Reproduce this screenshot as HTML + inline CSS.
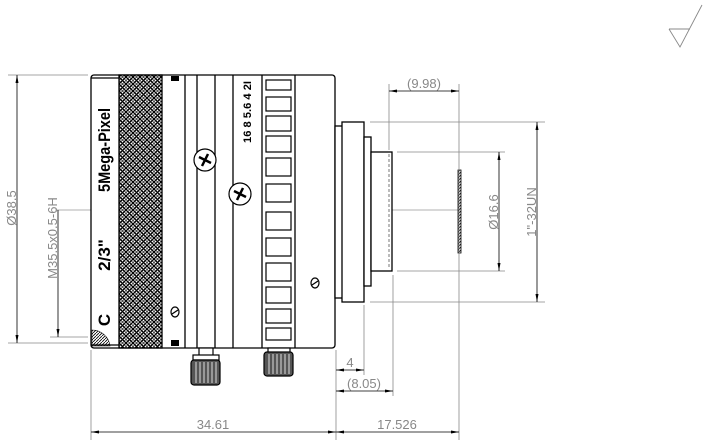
<!DOCTYPE html>
<html><head><style>html,body{margin:0;padding:0;background:#fff}svg{display:block}</style></head>
<body>
<svg width="710" height="445" viewBox="0 0 710 445" xmlns="http://www.w3.org/2000/svg" font-family="Liberation Sans, sans-serif">
<defs>
<pattern id="kn" width="7" height="7" patternUnits="userSpaceOnUse">
<rect width="7" height="7" fill="#fff"/>
<path d="M0 0L7 7M7 0L0 7" stroke="#000" stroke-width="1.3"/>
<path d="M0 3.5L3.5 0L7 3.5L3.5 7z" fill="none" stroke="#000" stroke-width="0.6"/>
<rect x="2.6" y="2.6" width="1.8" height="1.8" fill="#000"/>
</pattern>
<pattern id="hat" width="3" height="3" patternUnits="userSpaceOnUse"><path d="M0 3L3 0" stroke="#000" stroke-width="0.8"/></pattern>
<marker id="a" markerWidth="8" markerHeight="6" refX="8" refY="3" orient="auto-start-reverse" markerUnits="userSpaceOnUse"><path d="M0 1.5L8 3L0 4.5z" fill="#000"/></marker>
</defs>
<g stroke="#999" stroke-width="0.8">
<line x1="55" y1="210" x2="110" y2="210"/><line x1="180" y1="210" x2="350" y2="210"/><line x1="345" y1="210" x2="460" y2="210"/>
</g>
<g stroke="#000" stroke-width="1.3" fill="#fff">
<rect x="91" y="75" width="244" height="273" rx="3"/>
<rect x="119" y="75" width="43" height="273" fill="url(#kn)"/>
<line x1="185" y1="75" x2="185" y2="348"/>
<line x1="197" y1="75" x2="197" y2="348"/>
<line x1="215" y1="75" x2="215" y2="348"/>
<line x1="233" y1="75" x2="233" y2="348"/>
<line x1="262" y1="75" x2="262" y2="348"/>
<line x1="295" y1="75" x2="295" y2="348"/>
<line x1="91" y1="78" x2="119" y2="78"/>
<line x1="91" y1="345" x2="119" y2="345"/>
</g>
<g stroke="#000" stroke-width="1.2" fill="#fff">
<rect x="266" y="80" width="25" height="10"/>
<rect x="266" y="97" width="25" height="14"/>
<rect x="266" y="116" width="25" height="15"/>
<rect x="266" y="136" width="25" height="16"/>
<rect x="266" y="158" width="25" height="18"/>
<rect x="266" y="184" width="25" height="18"/>
<rect x="266" y="212" width="25" height="18"/>
<rect x="266" y="238" width="25" height="18"/>
<rect x="266" y="263" width="25" height="18"/>
<rect x="266" y="287" width="25" height="16"/>
<rect x="266" y="309" width="25" height="14"/>
<rect x="266" y="328" width="25" height="12"/>
</g>
<rect x="171" y="76" width="8" height="5" fill="#000"/>
<rect x="171" y="340" width="8" height="6" fill="#000"/>
<g stroke="#000" stroke-width="1.2" fill="#fff">
<circle cx="205" cy="160" r="11"/><path d="M199 157l12 6M208 154l-6 12" stroke-width="2.5"/>
<circle cx="240" cy="194" r="11"/><path d="M234 191l12 6M243 188l-6 12" stroke-width="2.5"/>
<ellipse cx="175" cy="312" rx="4" ry="5"/><line x1="172" y1="314" x2="178" y2="310"/>
<ellipse cx="315" cy="283" rx="4" ry="5"/><line x1="312" y1="285" x2="318" y2="281"/>
</g>
<g stroke="#000" stroke-width="1.2" fill="#fff">
<rect x="199" y="348" width="14" height="8"/>
<rect x="193" y="355" width="26" height="5"/>
<rect x="191" y="360" width="29" height="25" rx="3" fill="#555"/>
<rect x="268" y="348" width="22" height="5"/>
<rect x="264" y="352" width="29" height="24" rx="3" fill="#555"/>
</g>
<g stroke="#fff" stroke-width="0.8">
<path d="M196 362v21M200 362v21M204 362v21M208 362v21M212 362v21M216 362v21M269 354v20M273 354v20M277 354v20M281 354v20M285 354v20M289 354v20"/>
</g>
<path d="M92 330 A18 18 0 0 1 110 346 L92 346z" fill="url(#hat)" stroke="#000" stroke-width="0.6"/>
<g stroke="#000" stroke-width="1.3" fill="#fff">
<rect x="335" y="126" width="8" height="172"/>
<rect x="342" y="122" width="22" height="180"/>
<rect x="364" y="137" width="7" height="149"/>
<rect x="371" y="152" width="21" height="119"/>
</g>
<line x1="389" y1="154" x2="389" y2="269" stroke="#777" stroke-dasharray="3 2"/>
<rect x="458" y="170" width="3" height="83" fill="url(#hat)" stroke="#000" stroke-width="0.8"/>
<g font-weight="bold" fill="#000">
<text transform="translate(110,150) rotate(-90)" text-anchor="middle" font-size="17" textLength="84" lengthAdjust="spacingAndGlyphs">5Mega-Pixel</text>
<text transform="translate(110,255) rotate(-90)" text-anchor="middle" font-size="17">2/3"</text>
<text transform="translate(110,320) rotate(-90)" text-anchor="middle" font-size="17">C</text>
<text transform="translate(251,112) rotate(-90)" text-anchor="middle" font-size="11" textLength="62" lengthAdjust="spacingAndGlyphs">16 8 5.6 4 2I</text>
</g>
<g stroke="#888" stroke-width="0.8" fill="none">
<line x1="8" y1="75" x2="88" y2="75"/><line x1="8" y1="343" x2="88" y2="343"/>
<line x1="50" y1="337" x2="88" y2="337"/>
<line x1="91" y1="350" x2="91" y2="440"/><line x1="336" y1="350" x2="336" y2="440"/>
<line x1="389" y1="84" x2="389" y2="150"/><line x1="459" y1="84" x2="459" y2="440"/>
<line x1="364" y1="305" x2="364" y2="375"/><line x1="393" y1="275" x2="393" y2="396"/>
<line x1="370" y1="122" x2="545" y2="122"/><line x1="370" y1="302" x2="545" y2="302"/>
<line x1="397" y1="152" x2="505" y2="152"/><line x1="397" y1="271" x2="505" y2="271"/>
</g>
<g stroke="#000" stroke-width="0.8" fill="none">
<line x1="17" y1="75" x2="17" y2="343" marker-start="url(#a)" marker-end="url(#a)"/>
<line x1="58" y1="210" x2="58" y2="337" marker-end="url(#a)"/>
<line x1="389" y1="91" x2="459" y2="91" marker-start="url(#a)" marker-end="url(#a)"/>
<line x1="537" y1="122" x2="537" y2="302" marker-start="url(#a)" marker-end="url(#a)"/>
<line x1="499" y1="152" x2="499" y2="271" marker-start="url(#a)" marker-end="url(#a)"/>
<line x1="336" y1="370" x2="364" y2="370" marker-start="url(#a)" marker-end="url(#a)"/>
<line x1="336" y1="391" x2="393" y2="391" marker-start="url(#a)" marker-end="url(#a)"/>
<line x1="336" y1="432" x2="459" y2="432" marker-start="url(#a)" marker-end="url(#a)"/>
<line x1="91" y1="432" x2="336" y2="432" marker-start="url(#a)" marker-end="url(#a)"/>
</g>
<g fill="#888" font-size="13">
<text transform="translate(16,208) rotate(-90)" text-anchor="middle">Ø38.5</text>
<text transform="translate(57,238) rotate(-90)" text-anchor="middle">M35.5x0.5-6H</text>
<text x="424" y="88" text-anchor="middle">(9.98)</text>
<text transform="translate(536,212) rotate(-90)" text-anchor="middle">1"-32UN</text>
<text transform="translate(498,212) rotate(-90)" text-anchor="middle">Ø16.6</text>
<text x="350" y="367" text-anchor="middle">4</text>
<text x="364" y="388" text-anchor="middle">(8.05)</text>
<text x="397" y="429" text-anchor="middle">17.526</text>
<text x="213" y="429" text-anchor="middle">34.61</text>
</g>
<path d="M669 29H690M669 29L680 47L702 5" stroke="#888" stroke-width="0.9" fill="none"/>
</svg>
</body></html>
